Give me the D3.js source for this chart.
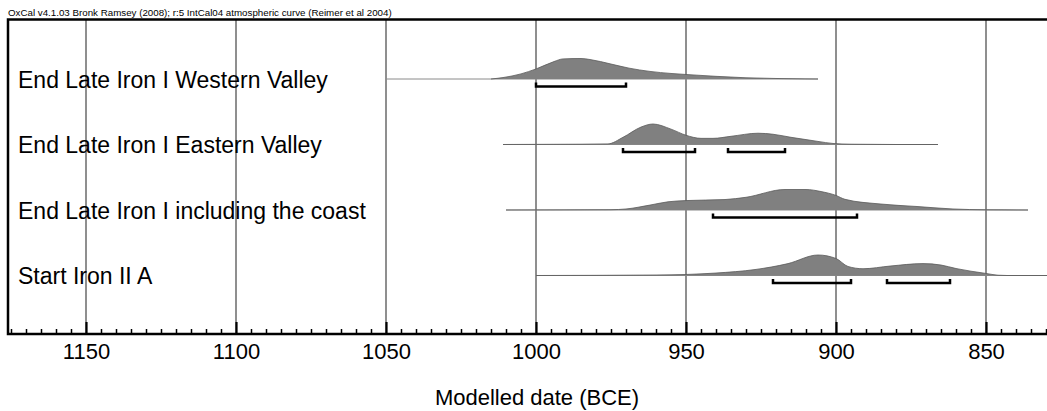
<!DOCTYPE html>
<html>
<head>
<meta charset="utf-8">
<script src="https://cdn.jsdelivr.net/npm/d3@7"></script>
<style>
  html, body { margin: 0; padding: 0; background: #fff; }
  svg { display: block; font-family: "Liberation Sans", Arial, sans-serif; }
</style>
</head>
<body>
<svg id="chart" width="1047" height="411"></svg>
<script>
// ---------------- DATA ----------------
const titleText = "OxCal v4.1.03 Bronk Ramsey (2008); r:5 IntCal04 atmospheric curve (Reimer et al 2004)";
const axisTitle = "Modelled date (BCE)";
const categories = [
  "End Late Iron I Western Valley",
  "End Late Iron I Eastern Valley",
  "End Late Iron I including the coast",
  "Start Iron II A"
];
const majorTicks = [1150, 1100, 1050, 1000, 950, 900, 850];
// extent of the thin baseline for each item [from, to] (BCE years)
const lineExtents = [
  [1050, 906],
  [1011, 866],
  [1010, 836],
  [1000, 829]
];
// relative posterior density [year, density]
const densityWestern = [
  [1015, 0], [1011, 0.07], [1005, 0.25], [1000, 0.49], [994, 0.85], [991, 0.98],
  [985, 1.0], [982, 0.95], [975, 0.73], [969, 0.53], [962, 0.37], [955, 0.27],
  [950, 0.22], [940, 0.13], [930, 0.06], [920, 0.025], [910, 0.005], [906, 0]
];
const densityEastern = [
  [1011, 0], [985, 0.015], [976, 0.03], [971, 0.35], [965, 0.85], [961, 1.0],
  [955, 0.75], [950, 0.45], [945, 0.3], [941, 0.3], [935, 0.4], [926, 0.55],
  [921, 0.5], [915, 0.35], [906, 0.15], [901, 0.05], [895, 0.015], [880, 0], [866, 0]
];
const densityCoast = [
  [1010, 0], [975, 0.015], [970, 0.05], [962, 0.24], [956, 0.4], [950, 0.46],
  [937, 0.51], [930, 0.62], [917, 1.0], [910, 1.0], [905, 0.9], [900, 0.71],
  [897, 0.52], [885, 0.29], [873, 0.17], [861, 0.05], [850, 0.01], [836, 0]
];
const densityIronIIA = [
  [1000, 0], [960, 0.025], [950, 0.05], [940, 0.12], [927, 0.29], [916, 0.58],
  [906, 1.0], [900, 0.83], [896, 0.44], [891, 0.33], [882, 0.46], [871, 0.58],
  [865, 0.51], [860, 0.34], [850, 0.1], [846, 0.015], [843, 0], [829, 0]
];
const densities = [densityWestern, densityEastern, densityCoast, densityIronIIA];
// 95.4% highest-probability ranges
const ranges = [
  [[1000, 970]],
  [[971, 947], [936, 917]],
  [[941, 893]],
  [[921, 895], [883, 862]]
];

// ---------------- LAYOUT ----------------
const W = 1047, H = 411;
const frameLeft = 8, frameTop = 19.5, axisY = 334;
const svg = d3.select("#chart");

const x = d3.scaleLinear().domain([1000, 850]).range([536, 986]);

const rowScale = d3.scalePoint().domain(categories).range([79, 275.5]);
const h = d3.scaleLinear().domain([0, 1]).range([0, 20.5]);

// title
svg.append("text")
  .attr("x", frameLeft).attr("y", 15.5)
  .attr("font-size", 9.75).attr("fill", "#000")
  .text(titleText);

// grid lines
svg.append("g").selectAll("line").data(majorTicks).join("line")
  .attr("x1", d => x(d)).attr("x2", d => x(d))
  .attr("y1", frameTop).attr("y2", axisY)
  .attr("stroke", "#6a6a6a").attr("stroke-width", 1.5);

// rows
const rows = svg.append("g").selectAll("g").data(categories).join("g")
  .attr("transform", d => `translate(0,${rowScale(d)})`);

rows.append("text")
  .attr("x", 18).attr("y", 8.5)
  .attr("font-size", 23).attr("fill", "#000")
  .text(d => d);

rows.append("line")
  .attr("x1", (d, i) => x(lineExtents[i][0]))
  .attr("x2", (d, i) => x(lineExtents[i][1]))
  .attr("y1", 0).attr("y2", 0)
  .attr("stroke", "#8a8a8a").attr("stroke-width", 1);

const area = d3.area()
  .x(d => x(d[0])).y0(0).y1(d => -h(d[1]))
  .curve(d3.curveMonotoneX);
const topLine = d3.line()
  .x(d => x(d[0])).y(d => -h(d[1]))
  .curve(d3.curveMonotoneX);

rows.append("path")
  .attr("d", (d, i) => area(densities[i]))
  .attr("fill", "#808080");
rows.append("path")
  .attr("d", (d, i) => topLine(densities[i]))
  .attr("fill", "none").attr("stroke", "#5a5a5a").attr("stroke-width", 0.8);

// range brackets
rows.each(function (d, i) {
  d3.select(this).selectAll("path.rng").data(ranges[i]).join("path")
    .attr("class", "rng")
    .attr("d", r => `M${x(r[0])},3.5 V7.5 H${x(r[1])} V3.5`)
    .attr("fill", "none").attr("stroke", "#000").attr("stroke-width", 2.5);
});

// axis: minor ticks
const minorVals = d3.range(1175, 829, -5).filter(v => v % 50 !== 0);
const minorAxis = d3.axisBottom(x).tickValues(minorVals).tickSize(-5).tickFormat("");
const gMinor = svg.append("g").attr("transform", `translate(0,${axisY})`).call(minorAxis);
gMinor.select(".domain").remove();
gMinor.selectAll(".tick line").attr("stroke", "#000").attr("stroke-width", 1.5);

const majorAxis = d3.axisBottom(x).tickValues(majorTicks).tickSize(-12).tickPadding(9)
  .tickFormat(d3.format("d"));
const gMajor = svg.append("g").attr("transform", `translate(0,${axisY})`).call(majorAxis);
gMajor.select(".domain").remove();
gMajor.selectAll(".tick line").attr("stroke", "#000").attr("stroke-width", 2.2);
gMajor.selectAll(".tick text")
  .attr("font-size", 22).attr("fill", "#000")
  .attr("font-family", "'Liberation Sans', Arial, sans-serif");

// frame
svg.append("path")
  .attr("d", `M${W + 5},${frameTop} H${frameLeft} V${axisY} H${W + 5}`)
  .attr("fill", "none").attr("stroke", "#000").attr("stroke-width", 2.5);

// axis title
svg.append("text")
  .attr("x", 537).attr("y", 405)
  .attr("text-anchor", "middle")
  .attr("font-size", 22).attr("fill", "#000")
  .text(axisTitle);
</script>
</body>
</html>
